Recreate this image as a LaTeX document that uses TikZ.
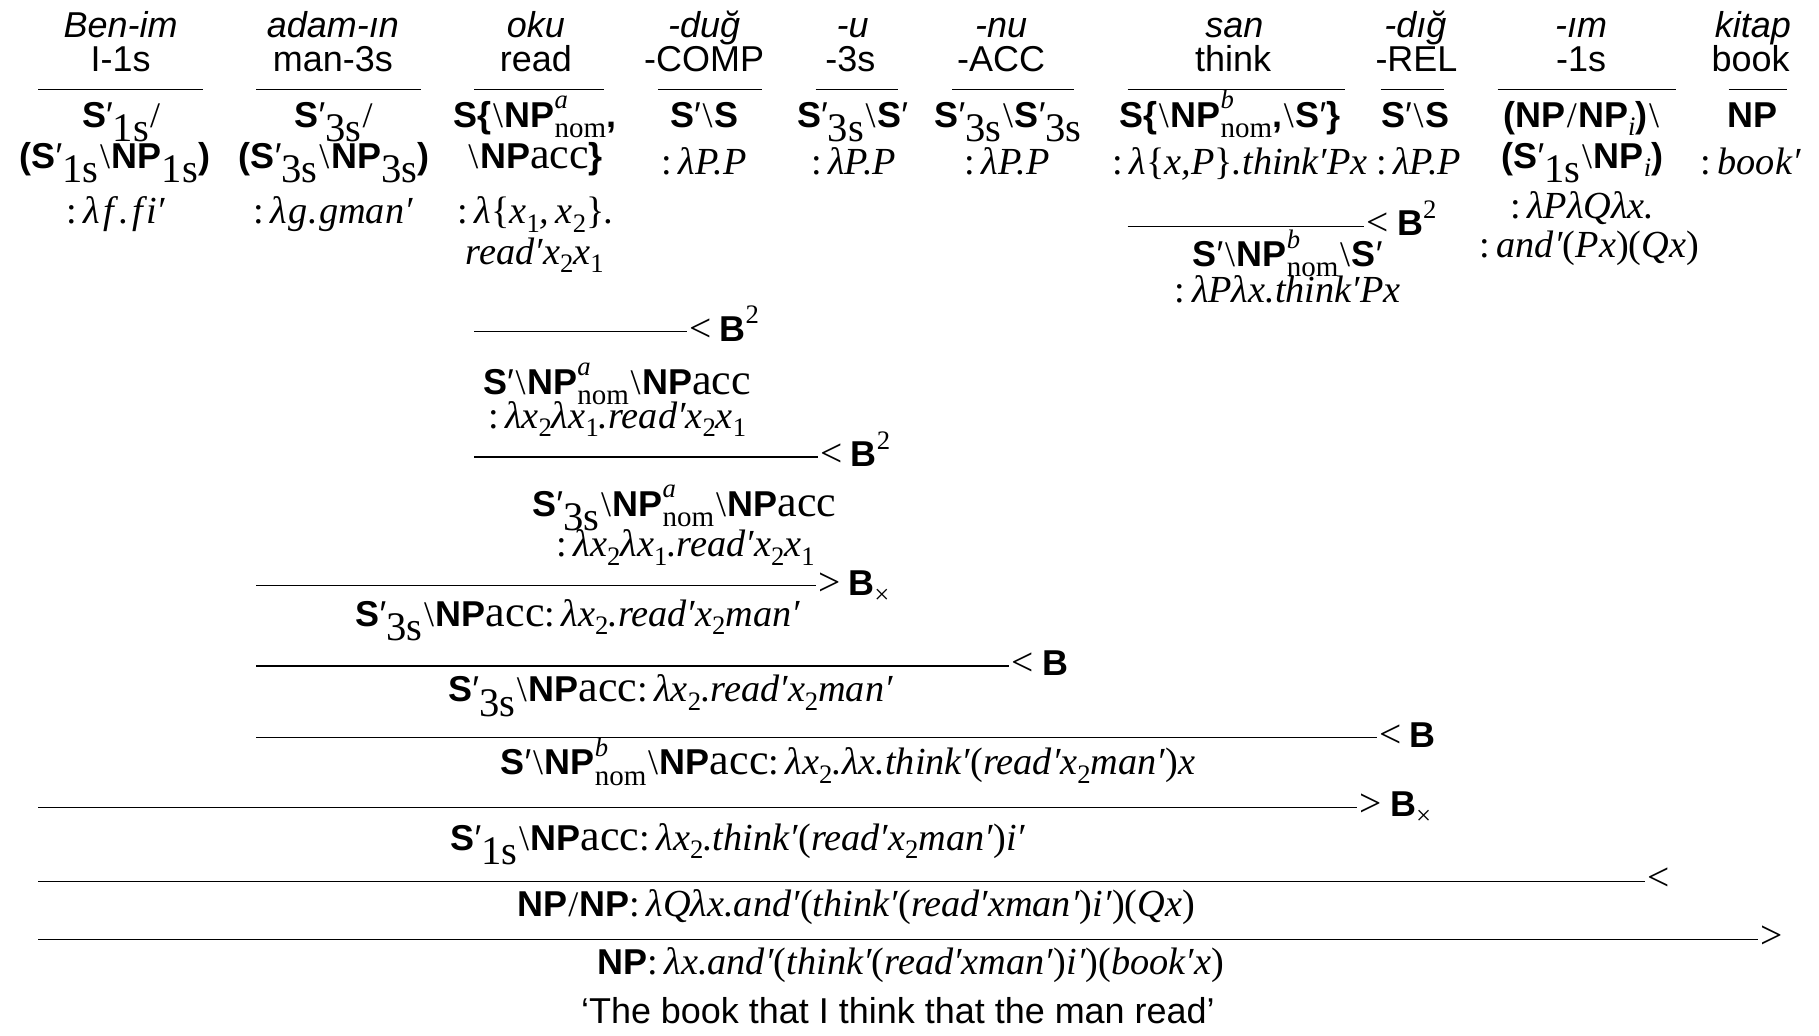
\documentclass[tikz,border=0pt]{standalone}
\usepackage{fontspec}
\setmainfont{Liberation Serif}
\setsansfont{Liberation Sans}
\newcommand\Cb[1]{{\sffamily\bfseries #1}}
\newcommand\Prm{{\sffamily\mdseries ′}}
\newcommand\Bsl{{\rmfamily\mdseries\upshape\kern1.5pt\textbackslash\kern1.5pt}}
\newcommand\Slh{{\rmfamily\mdseries\upshape\kern1pt/\kern1pt}}
\newcommand\Lw[1]{\raisebox{-0.40em}{\fontsize{35}{35}\selectfont\rmfamily\mdseries\upshape #1}}
\newcommand\Ac{{\fontsize{38}{38}\selectfont\rmfamily\mdseries\upshape acc}}
\newcommand\Ns[2]{\rlap{\raisebox{0.52em}{\fontsize{23}{23}\selectfont\rmfamily\mdseries\itshape #1}}\raisebox{-0.28em}{\fontsize{25}{25}\selectfont\rmfamily\mdseries\upshape #2}}
\newcommand\Dn[1]{\raisebox{-0.22em}{\fontsize{23}{23}\selectfont\upshape #1}}
\newcommand\Di[1]{\raisebox{-0.22em}{\fontsize{23}{23}\selectfont\rmfamily\mdseries\itshape #1}}
\newcommand\Up[1]{\raisebox{0.48em}{\fontsize{23}{23}\selectfont\rmfamily\mdseries\upshape #1}}
\newcommand\U[1]{\textup{#1}}
\newcommand\Tm[1]{{\fontsize{33}{35}\selectfont\rmfamily\mdseries\itshape #1}}
\newcommand\Lt{{\fontsize{34}{34}\selectfont\rmfamily\mdseries <}}
\newcommand\Gt{{\fontsize{34}{34}\selectfont\rmfamily\mdseries >}}
\begin{document}
\begin{tikzpicture}[x=1pt,y=-1pt,
  tx/.style={inner sep=0pt,anchor=base,font=\fontsize{31}{33}\selectfont\sffamily},
  wd/.style={inner sep=0pt,anchor=base,font=\fontsize{31}{33}\selectfont\sffamily\itshape},
  lab/.style={inner sep=0pt,anchor=base west,font=\fontsize{31}{33}\selectfont\sffamily},
  rule/.style={line width=1.1pt}]
\useasboundingbox (0,0) rectangle (1568,893);
% words
\node[wd] (w1a) at (104,32) {Ben-im};   \node[tx] (w1b) at (104,62) {I-1s};
\node[wd] (w2a) at (287,32) {adam-ın};  \node[tx] (w2b) at (287,62) {man-3s};
\node[wd] (w3a) at (462,32) {oku};      \node[tx] (w3b) at (462,62) {read};
\node[wd] (w4a) at (607,32) {-duğ};     \node[tx] (w4b) at (607,62) {-COMP};
\node[wd] (w5a) at (735,32) {-u};       \node[tx] (w5b) at (733,62) {-3s};
\node[wd] (w6a) at (863,32) {-nu};      \node[tx] (w6b) at (863,62) {-ACC};
\node[wd] (w7a) at (1064,32) {san};     \node[tx] (w7b) at (1063,62) {think};
\node[wd] (w8a) at (1220,32) {-dığ};    \node[tx] (w8b) at (1221,62) {-REL};
\node[wd] (w9a) at (1363,32) {-ım};     \node[tx] (w9b) at (1363,62) {-1s};
\node[wd] (w10a) at (1511,32) {kitap};  \node[tx] (w10b) at (1509,62) {book};
% lexical rules
\foreach \n/\a/\b in {1/33/175,2/221/363,3/409/521,4/567/657,5/703/774,6/821/926,7/972/1159,8/1190/1245,9/1291/1445,10/1490/1540}{
  \coordinate (k\n a) at (\a,77); \coordinate (k\n b) at (\b,77);
  \draw[rule] (k\n a) -- (k\n b);}
% lexical categories
\node[tx] (c1a) at (105,110) {\Cb{S}\Prm\Lw{1s}\Slh};
\node[tx] (c1b) at (99,145) {\Cb{(S}\Prm\Lw{1s}\Bsl\Cb{NP}\Lw{1s}\Cb{)}};
\node[tx] (c1c) at (100,193) {\Tm{\U{:\,}λ\kern3pt f\kern4pt.\kern3pt f\kern3pt i′}};
\node[tx] (c2a) at (288,110) {\Cb{S}\Prm\Lw{3s}\Slh};
\node[tx] (c2b) at (288,145) {\Cb{(S}\Prm\Lw{3s}\Bsl\Cb{NP}\Lw{3s}\Cb{)}};
\node[tx] (c2c) at (287,193) {\Tm{\U{:\,}λ\kern1pt g\kern1pt.\kern1pt gman′}};
\node[tx] (c3a) at (461,110) {\Cb{S\{}\Bsl\Cb{NP}\Ns{a}{nom}\Cb{,}};
\node[tx] (c3b) at (461,145) {\Bsl\Cb{NP}\Ac\Cb{\}}};
\node[tx] (c3c) at (462,193) {\Tm{\U{:\,}λ\U{\{}x\Dn{1},\,x\Dn{2}\U{\}}.}};
\node[tx] (c3d) at (461,228) {\Tm{read′x\Dn{2}x\Dn{1}}};
\node[tx] (c4a) at (607,110) {\Cb{S}\Prm\Bsl\Cb{S}};
\node[tx] (c4b) at (607,150) {\Tm{\U{:\,}λP.P}};
\node[tx] (c5a) at (735,110) {\Cb{S}\Prm\Lw{3s}\Bsl\Cb{S}\Prm};
\node[tx] (c5b) at (736,150) {\Tm{\U{:\,}λP.P}};
\node[tx] (c6a) at (869,110) {\Cb{S}\Prm\Lw{3s}\Bsl\Cb{S}\Prm\Lw{3s}};
\node[tx] (c6b) at (868,150) {\Tm{\U{:\,}λP.P}};
\node[tx] (c7a) at (1060,110) {\Cb{S\{}\Bsl\Cb{NP}\Ns{b}{nom}\Cb{,}\Bsl\Cb{S}\Prm\Cb{\}}};
\node[tx] (c7b) at (1069,150) {\Tm{\U{:\,}λ\U{\{}x,P\U{\}}.think′Px}};
\node[tx] (c8a) at (1220,110) {\Cb{S}\Prm\Bsl\Cb{S}};
\node[tx] (c8b) at (1223,150) {\Tm{\U{:\,}λP.P}};
\node[tx] (c9a) at (1364,110) {\Cb{(NP}\Slh\Cb{NP}\Di{i}\Cb{)}\Bsl};
\node[tx] (c9b) at (1364,145) {\Cb{(S}\Prm\Lw{1s}\Bsl\Cb{NP}\Di{i}\Cb{)}};
\node[tx] (c9c) at (1364,188) {\Tm{\U{:\,}λPλQλx.}};
\node[tx] (c9d) at (1370,222) {\Tm{\U{:\,}and′\U{(}Px\U{)(}Qx\U{)}}};
\node[tx] (c10a) at (1511,110) {\Cb{NP}};
\node[tx] (c10b) at (1509,150) {\Tm{\U{:\,}book′}};
% step 1: san + -dig
\coordinate (l1a) at (972,195); \coordinate (l1b) at (1176,195);
\draw[rule] (l1a) -- (l1b);
\node[lab] (r1) at (1178,203) {\Lt\kern7pt\Cb{B}\Up{2}};
\node[tx] (s1a) at (1110,230) {\Cb{S}\Prm\Bsl\Cb{NP}\Ns{b}{nom}\Bsl\Cb{S}\Prm};
\node[tx] (s1b) at (1110,261) {\Tm{\U{:\,}λPλx.think′Px}};
% step 2
\coordinate (l2a) at (409,286); \coordinate (l2b) at (592,286);
\draw[rule] (l2a) -- (l2b);
\node[lab] (r2) at (594,294) {\Lt\kern7pt\Cb{B}\Up{2}};
\node[tx] (s2a) at (532,340) {\Cb{S}\Prm\Bsl\Cb{NP}\Ns{a}{nom}\Bsl\Cb{NP}\Ac};
\node[tx] (s2b) at (532,369) {\Tm{\U{:\,}λx\Dn{2}λx\Dn{1}.read′x\Dn{2}x\Dn{1}}};
% step 3
\coordinate (l3a) at (409,394); \coordinate (l3b) at (705,394);
\draw[rule] (l3a) -- (l3b);
\node[lab] (r3) at (707,402) {\Lt\kern7pt\Cb{B}\Up{2}};
\node[tx] (s3a) at (590,445) {\Cb{S}\Prm\Lw{3s}\Bsl\Cb{NP}\Ns{a}{nom}\Bsl\Cb{NP}\Ac};
\node[tx] (s3b) at (591,480) {\Tm{\U{:\,}λx\Dn{2}λx\Dn{1}.read′x\Dn{2}x\Dn{1}}};
% step 4
\coordinate (l4a) at (221,505); \coordinate (l4b) at (703,505);
\draw[rule] (l4a) -- (l4b);
\node[lab] (r4) at (705,513) {\Gt\kern7pt\Cb{B}\Dn{\rmfamily ×}};
\node[tx] (s4) at (498,540) {\Cb{S}\Prm\Lw{3s}\Bsl\Cb{NP}\Ac\Tm{\U{:\,}λx\Dn{2}.read′x\Dn{2}man′}};
% step 5
\coordinate (l5a) at (221,574); \coordinate (l5b) at (870,574);
\draw[rule] (l5a) -- (l5b);
\node[lab] (r5) at (872,582) {\Lt\kern7pt\Cb{B}};
\node[tx] (s5) at (578,605) {\Cb{S}\Prm\Lw{3s}\Bsl\Cb{NP}\Ac\Tm{\U{:\,}λx\Dn{2}.read′x\Dn{2}man′}};
% step 6
\coordinate (l6a) at (221,636); \coordinate (l6b) at (1187,636);
\draw[rule] (l6a) -- (l6b);
\node[lab] (r6) at (1189,644) {\Lt\kern7pt\Cb{B}};
\node[tx] (s6) at (731,668) {\Cb{S}\Prm\Bsl\Cb{NP}\Ns{b}{nom}\Bsl\Cb{NP}\Ac\Tm{\U{:\,}λx\Dn{2}.λx.think′\U{(}read′x\Dn{2}man′\U{)}x}};
% step 7
\coordinate (l7a) at (33,696); \coordinate (l7b) at (1170,696);
\draw[rule] (l7a) -- (l7b);
\node[lab] (r7) at (1172,704) {\Gt\kern7pt\Cb{B}\Dn{\rmfamily ×}};
\node[tx] (s7) at (636,733) {\Cb{S}\Prm\Lw{1s}\Bsl\Cb{NP}\Ac\Tm{\U{:\,}λx\Dn{2}.think′\U{(}read′x\Dn{2}man′\U{)}i′}};
% step 8
\coordinate (l8a) at (33,760); \coordinate (l8b) at (1418,760);
\draw[rule] (l8a) -- (l8b);
\node[lab] (r8) at (1420,768) {\Lt};
\node[tx] (s8) at (738,790) {\Cb{NP}\Slh\Cb{NP}\Tm{\U{:\,}λQλx.and′\U{(}think′\U{(}read′xman′\U{)}i′\U{)(}Qx\U{)}}};
% step 9
\coordinate (l9a) at (33,810); \coordinate (l9b) at (1515,810);
\draw[rule] (l9a) -- (l9b);
\node[lab] (r9) at (1517,818) {\Gt};
\node[tx] (s9) at (785,840) {\Cb{NP}\Tm{\U{:\,}λx.and′\U{(}think′\U{(}read′xman′\U{)}i′\U{)(}book′x\U{)}}};
% translation
\node[tx] (tr) at (774,882) {‘The book that I think that the man read’};
\end{tikzpicture}
\end{document}
